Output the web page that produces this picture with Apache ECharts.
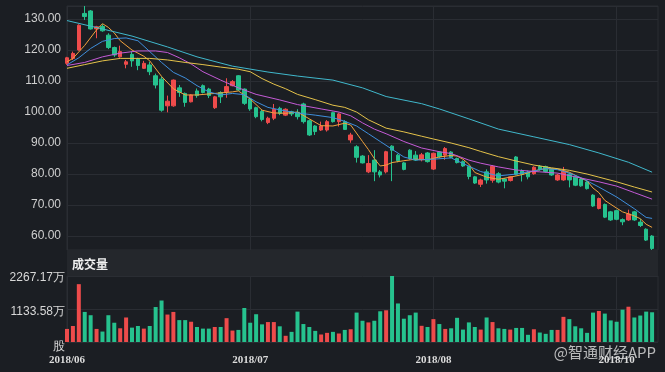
<!DOCTYPE html>
<html>
<head>
<meta charset="utf-8">
<script src="https://cdn.jsdelivr.net/npm/echarts@6/dist/echarts.min.js"></script>
<style>
html,body{margin:0;padding:0;background:#1b1e23;}
#c{width:665px;height:372px;}
</style>
</head>
<body>
<div id="c"></div>
<script>
const dates = [
'2018/06/01','2018/06/04','2018/06/05','2018/06/06','2018/06/07','2018/06/08','2018/06/11','2018/06/12','2018/06/13','2018/06/14',
'2018/06/15','2018/06/19','2018/06/20','2018/06/21','2018/06/22','2018/06/25','2018/06/26','2018/06/27','2018/06/28','2018/06/29',
'2018/07/03','2018/07/04','2018/07/05','2018/07/06','2018/07/09','2018/07/10','2018/07/11','2018/07/12','2018/07/13','2018/07/16',
'2018/07/17','2018/07/18','2018/07/19','2018/07/20','2018/07/23','2018/07/24','2018/07/25','2018/07/26','2018/07/27','2018/07/30',
'2018/07/31','2018/08/01','2018/08/02','2018/08/03','2018/08/06','2018/08/07','2018/08/08','2018/08/09','2018/08/10','2018/08/13',
'2018/08/14','2018/08/15','2018/08/16','2018/08/17','2018/08/20','2018/08/21','2018/08/22','2018/08/23','2018/08/24','2018/08/27',
'2018/08/28','2018/08/29','2018/08/30','2018/08/31','2018/09/03','2018/09/04','2018/09/05','2018/09/06','2018/09/07','2018/09/10',
'2018/09/11','2018/09/12','2018/09/13','2018/09/14','2018/09/17','2018/09/18','2018/09/19','2018/09/20','2018/09/21','2018/09/24',
'2018/09/26','2018/09/27','2018/09/28','2018/10/02','2018/10/03','2018/10/04','2018/10/05','2018/10/08','2018/10/09','2018/10/10',
'2018/10/11','2018/10/12','2018/10/15','2018/10/16','2018/10/18','2018/10/19','2018/10/22','2018/10/23','2018/10/24','2018/10/25'
];
const categories = dates.concat(['']);

const opens = [
115.7,117.3,120.0,131.8,132.6,126.8,127.6,124.8,120.8,117.8,
115.4,118.6,117.1,114.1,115.2,111.7,110.6,102.0,102.0,107.8,
106.0,103.3,106.8,108.5,107.4,101.4,106.3,106.5,108.5,111.7,
107.4,104.2,101.4,100.2,96.6,98.0,101.2,99.0,100.1,99.9,
102.6,97.2,95.5,94.2,94.2,99.8,96.9,96.9,91.0,88.8,
85.8,80.7,84.5,80.7,80.7,89.0,86.1,83.6,87.7,86.1,
84.6,86.8,81.6,87.1,86.1,87.1,85.0,84.0,82.4,79.1,
76.7,80.7,78.0,80.1,78.4,77.9,85.5,81.0,80.6,80.1,
82.5,82.4,81.5,78.1,78.1,80.0,79.0,78.4,77.4,73.2,
68.9,70.2,67.8,68.2,65.3,65.2,67.8,64.5,62.2,60.0
];
const closes = [
117.5,118.9,128.0,130.8,126.8,127.5,126.2,120.8,118.4,119.5,
116.2,116.5,115.0,115.7,113.0,108.7,100.6,103.5,110.3,106.3,
103.1,105.5,105.3,106.3,105.3,104.9,104.9,108.2,109.8,107.1,
102.8,101.0,98.5,97.6,98.0,100.9,99.6,100.9,99.4,98.5,
96.9,92.6,93.7,95.5,96.9,96.9,99.4,94.4,92.6,85.4,
83.6,83.4,80.7,79.7,87.2,87.7,84.3,81.5,85.0,84.5,
86.2,84.0,86.7,85.6,88.2,85.4,83.7,82.6,79.2,77.1,
78.1,78.1,82.5,77.4,77.7,79.1,79.9,79.9,79.1,82.2,
81.4,80.8,79.7,79.7,81.0,78.1,76.4,76.2,75.3,69.7,
72.1,66.1,65.2,65.4,64.6,67.1,65.2,63.4,58.7,56.0
];
const lows = [
115.2,116.8,119.8,129.7,126.6,123.8,125.9,120.3,117.8,117.5,
114.1,114.6,113.5,113.9,111.9,107.6,100.1,99.9,101.7,104.9,
101.7,103.1,104.6,106.0,104.5,101.0,102.9,104.6,108.3,106.8,
102.3,100.4,98.0,97.0,96.1,97.4,99.0,98.7,98.7,97.6,
96.3,92.3,92.6,93.9,93.7,96.6,95.3,94.2,90.1,83.7,
83.4,80.3,77.7,78.9,80.2,77.7,83.8,81.2,84.6,84.2,
84.1,83.7,81.3,85.2,84.6,85.1,83.4,82.3,78.3,76.8,
75.8,76.9,77.2,77.0,75.4,77.6,79.6,77.6,78.3,79.8,
81.1,80.5,79.4,77.8,77.8,75.7,76.1,75.9,75.0,69.4,
68.6,65.8,64.9,65.1,63.5,64.9,64.9,62.9,58.4,55.5
];
const highs = [
117.8,119.5,128.3,134.2,132.9,127.8,128.3,125.4,121.1,121.4,
116.8,119.5,117.5,116.5,116.2,112.4,111.4,105.3,110.5,108.7,
106.3,105.7,107.6,108.9,107.8,105.2,106.7,110.9,110.3,111.9,
107.6,104.6,101.7,100.8,98.5,102.6,101.7,101.2,100.4,100.9,
103.0,97.6,95.8,96.9,97.4,100.1,99.8,97.4,93.3,89.3,
86.1,86.1,87.7,81.3,87.5,89.3,86.5,83.9,88.0,87.4,
86.8,87.1,86.9,87.4,88.7,87.4,85.3,84.4,82.7,79.4,
78.5,81.5,82.9,80.6,78.7,79.3,85.8,81.5,81.1,82.5,
82.9,82.7,81.8,80.1,82.3,80.5,79.3,78.7,77.7,73.5,
72.4,70.5,68.1,68.5,65.7,68.5,68.1,65.5,62.5,60.3
];
// volume in 万股
const volumes = [
449,550,1987,1033,920,449,359,920,662,471,
842,494,550,460,550,1201,1425,943,1033,752,
752,696,516,460,460,516,516,819,393,415,
1167,662,954,606,685,685,539,213,348,1044,
617,516,382,258,314,348,292,415,438,1010,
730,673,730,1055,1089,2267.17,1324,800,920,1010,
556,516,786,617,449,471,831,426,673,516,
426,842,685,471,449,426,483,483,247,438,
325,281,415,415,864,786,539,471,314,1010,
1066,976,741,696,1111,1212,842,909,1044,1021
];
const volMax = 2267.17;
const volLabels = ['股', '1133.58万', '2267.17万'];

// moving averages: [category index, value]
const ma5 = [[0,116.2],[1,117.3],[3,121.5],[5,126.5],[6,128.5],[7,127.3],[8,125.5],[9,123.0],[11,120.0],[13,118.0],[14,116.5],[16,111.5],[18,107.5],[20,105.5],[22,105.5],[25,106.0],[28,106.5],[29,106.8],[31,104.2],[33,100.6],[35,99.7],[37,99.6],[39,100.0],[41,97.8],[43,95.6],[45,95.5],[47,96.4],[48,95.8],[50,90.5],[51,87.9],[52,85.0],[53,82.6],[54,82.9],[55,83.7],[57,84.3],[59,84.8],[61,84.6],[63,85.5],[65,86.0],[66,85.8],[67,84.8],[68,83.2],[69,80.5],[71,79.0],[73,78.3],[75,79.0],[77,79.8],[79,81.0],[81,81.8],[83,81.6],[85,80.6],[87,78.6],[88,77.8],[89,75.5],[90,74.0],[91,71.5],[93,69.0],[94,67.8],[96,66.5],[97,65.6],[98,63.8],[99,62.8]];
const ma10 = [[0,115.2],[2,117.5],[4,120.5],[6,122.8],[8,123.7],[10,123.9],[12,123.0],[14,119.5],[16,116.0],[18,112.8],[20,111.0],[22,108.5],[24,106.5],[26,105.5],[28,106.0],[30,105.6],[32,103.3],[34,101.5],[36,100.7],[39,99.7],[42,99.0],[45,98.2],[47,97.0],[49,95.5],[51,93.0],[53,90.5],[55,88.0],[57,85.5],[59,84.5],[62,84.8],[65,85.2],[67,83.4],[70,80.8],[73,79.4],[76,80.0],[79,81.0],[81,81.8],[83,81.4],[85,80.3],[87,78.8],[90,75.8],[93,72.6],[96,68.8],[98,66.0],[99,65.7]];
const ma20 = [[0,115.0],[3,116.0],[6,117.8],[9,119.0],[12,119.7],[15,119.7],[17,119.2],[19,117.5],[21,115.5],[23,113.0],[26,110.3],[29,107.8],[32,105.7],[36,103.9],[39,102.4],[43,101.0],[46,100.0],[48,98.8],[50,96.5],[52,94.5],[54,93.0],[57,90.5],[60,88.4],[63,87.2],[65,86.6],[68,84.5],[70,83.5],[73,82.3],[76,81.3],[80,80.7],[83,80.3],[87,78.7],[90,77.5],[93,76.1],[96,74.0],[99,71.9]];
const ma30 = [[0,114.1],[3,115.3],[6,116.5],[9,117.3],[14,117.3],[17,116.8],[20,116.0],[23,115.3],[26,114.5],[29,113.8],[31,113.0],[33,110.8],[35,109.0],[37,107.5],[39,105.7],[42,104.0],[45,102.2],[47,101.5],[49,100.0],[51,97.5],[54,94.8],[57,93.6],[60,92.2],[62,91.3],[65,90.0],[68,88.5],[70,87.3],[73,85.6],[76,84.2],[79,82.9],[82,82.0],[85,81.2],[88,80.0],[90,79.0],[93,77.5],[96,75.8],[99,74.2]];
const ma60 = [[0,129.5],[6,126.8],[11,124.5],[17,121.0],[22,117.8],[28,114.8],[34,112.9],[39,111.6],[45,110.3],[50,107.8],[54,105.0],[60,102.7],[63,101.0],[68,97.8],[73,94.5],[79,92.0],[85,89.5],[90,86.8],[95,83.8],[99,80.6]];

const UP = '#ee4b4b', DOWN = '#26c28e';
const GRIDC = '#2a2d33';
const candleData = dates.map((d, i) => [opens[i], closes[i], lows[i], highs[i]]);
const isUp = i => closes[i] >= opens[i];

const chart = echarts.init(document.getElementById('c'), null, {renderer: 'canvas'});
function maLine(data, color) {
  return {type: 'line', xAxisIndex: 0, yAxisIndex: 0, data: data, symbol: 'none', smooth: false,
    lineStyle: {width: 1, color: color}, itemStyle: {color: color}, z: 3, silent: true};
}
const volRichKeys = ['g', 'm', 't'];
chart.setOption({
  backgroundColor: '#1b1e23',
  animation: false,
  grid: [
    {left: 67, right: 7, top: 6, height: 244, show: true, borderColor: GRIDC, borderWidth: 1, backgroundColor: 'transparent'},
    {left: 67, right: 7, top: 276, height: 66, show: true, borderColor: GRIDC, borderWidth: 1, backgroundColor: 'transparent'}
  ],
  xAxis: [
    {type: 'category', gridIndex: 0, data: categories, boundaryGap: false,
     axisLine: {show: false}, axisTick: {show: false}, axisLabel: {show: false},
     splitLine: {show: true, interval: 30, lineStyle: {color: GRIDC, width: 1}}},
    {type: 'category', gridIndex: 1, data: categories, boundaryGap: false,
     axisLine: {show: false}, axisTick: {show: false},
     axisLabel: {show: true, interval: 30, margin: 13, color: '#dcdcdc', fontSize: 11, fontWeight: 'bold',
       fontFamily: 'Liberation Serif', formatter: v => v.slice(0, 7)},
     splitLine: {show: true, interval: 30, lineStyle: {color: GRIDC, width: 1}}}
  ],
  yAxis: [
    {type: 'value', gridIndex: 0, min: 'dataMin', max: 'dataMax', splitNumber: 8, scale: true,
     axisLine: {show: false}, axisTick: {show: false},
     axisLabel: {color: '#cfcfcf', fontSize: 12, margin: 6, fontFamily: 'Liberation Sans',
       showMinLabel: false, showMaxLabel: false, formatter: v => v.toFixed(2)},
     splitLine: {show: true, lineStyle: {color: GRIDC, width: 1}}},
    {type: 'value', gridIndex: 1, min: 0, max: volMax, interval: volMax / 2,
     axisLine: {show: false}, axisTick: {show: false},
     axisLabel: {color: '#d8d8d8', fontSize: 12, margin: 2, fontFamily: 'Liberation Sans',
       formatter: (v, idx) => volLabels[idx] !== undefined ? '{' + volRichKeys[idx] + '|' + volLabels[idx] + '}' : '',
       rich: {
         g: {fontSize: 12, color: '#d8d8d8', fontFamily: 'Liberation Sans', lineHeight: 22, verticalAlign: 'bottom'},
         m: {fontSize: 12, color: '#d8d8d8', fontFamily: 'Liberation Sans', lineHeight: 18, verticalAlign: 'bottom'},
         t: {fontSize: 12, color: '#d8d8d8', fontFamily: 'Liberation Sans', lineHeight: 16, verticalAlign: 'bottom'}
       }},
     splitLine: {show: true, lineStyle: {color: GRIDC, width: 1}}}
  ],
  series: [
    {type: 'candlestick', xAxisIndex: 0, yAxisIndex: 0, data: candleData, barWidth: 4,
     itemStyle: {color: UP, color0: DOWN, borderColor: UP, borderColor0: DOWN, borderWidth: 1}, z: 2, silent: true},
    maLine(ma5, '#f2a23c'),
    maLine(ma10, '#3f8fdc'),
    maLine(ma20, '#c45ad6'),
    maLine(ma30, '#e4c24a'),
    maLine(ma60, '#40b8cc'),
    {type: 'bar', xAxisIndex: 1, yAxisIndex: 1, barWidth: 4, silent: true,
     data: volumes.map((v, i) => ({value: v, itemStyle: {color: isUp(i) ? UP : DOWN}}))}
  ],
  graphic: [
    {type: 'rect', shape: {x: 67, y: 250, width: 591, height: 26}, style: {fill: '#24272c'}, z: 1, silent: true},
    {type: 'text', x: 72, y: 264, z: 5, silent: true,
     style: {text: '成交量', fill: '#f0f0f0', font: 'bold 12px "Noto Sans CJK SC"', verticalAlign: 'middle'}},
    {type: 'text', x: 656, y: 352, z: 10, silent: true,
     style: {text: '@智通财经APP', fill: 'rgba(225,225,225,0.8)', font: '15px "Noto Sans CJK SC"', align: 'right', verticalAlign: 'middle'}}
  ]
});
</script>
</body>
</html>
